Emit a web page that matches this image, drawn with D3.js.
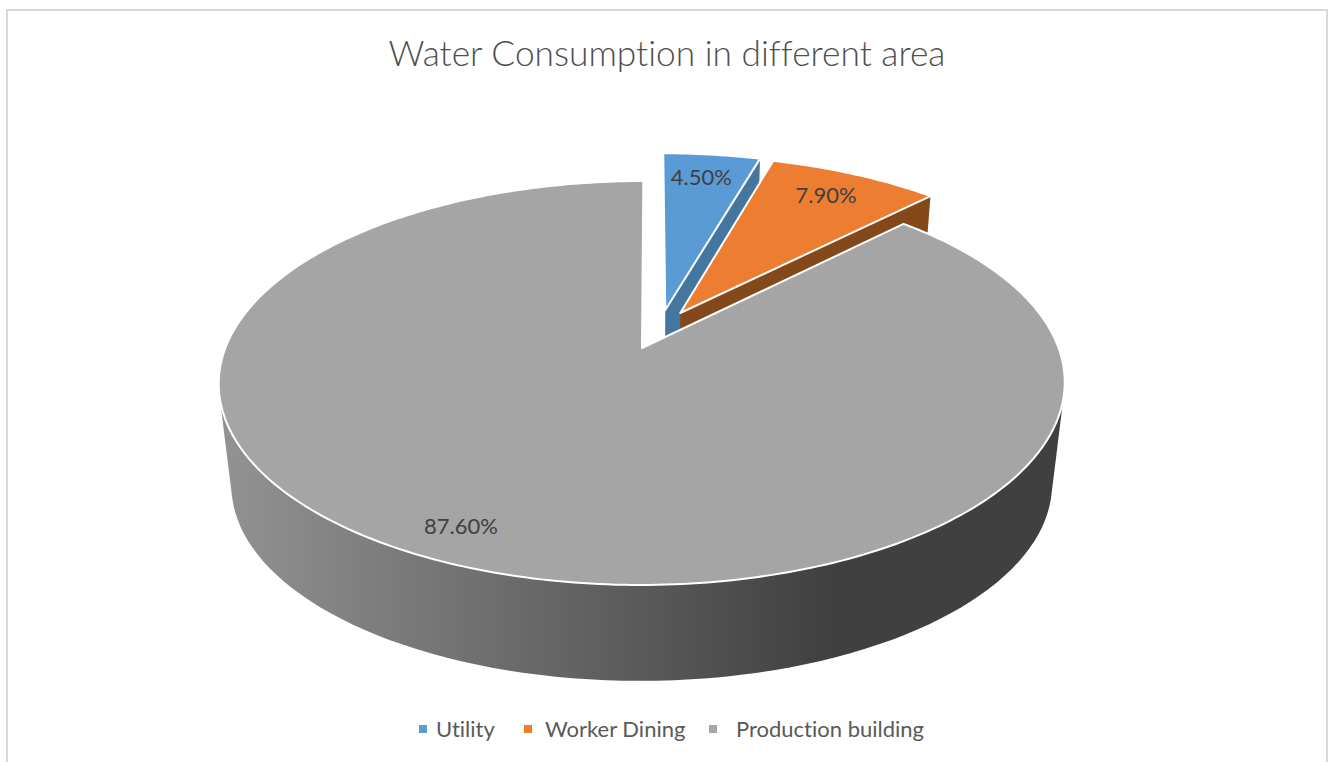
<!DOCTYPE html>
<html>
<head>
<meta charset="utf-8">
<script src="https://cdn.jsdelivr.net/npm/d3@7"></script>
<style>
    html, body { margin: 0; padding: 0; background: #fff; overflow: hidden; }
    text { font-family: Lato, "Open Sans", sans-serif; font-variant-ligatures: none; }
</style>
</head>
<body>
<div id="chart"></div>
<script>
// data
const chartTitle = "Water Consumption in different area";
const categories = ["Utility", "Worker Dining", "Production building"];
const shares = [4.5, 7.9, 87.6];
const shareLabels = ["4.50%", "7.90%", "87.60%"];
const topColors = ["#5b9bd5", "#ed7d31", "#a5a5a5"];
const edgeColors = ["#44779f", "#84491b", "#6e6e6e"];

const width = 1328, height = 762;

// projection of the tilted pie, apex of the big slice is the origin
const apexX = 642, apexY = 348;
const scaleX = 416.6, scaleY = 195.9, persp = 0.1733, shear = 0.008;
const depthDrop = 103, depthScale = 0.97;
const explode = [[0.0571, -0.2008], [0.0941, -0.1844], [0, 0]];
const labelRadius = 0.84;
const labelNudge = [[-4, 2], [-4, 2], [-26, 3]];

function project(u, v, lower) {
    let w = 1 - persp * v;
    let px = scaleX * u / w;
    let py = scaleY * v / w;
    let s = lower ? depthScale : 1;
    return [
        apexX + s * (px - shear * py),
        apexY + s * py + (lower ? depthDrop : 0)
    ];
}

// angle is clockwise from twelve o'clock
function rim(angle, i, lower, r = 1) {
    let off = explode[i];
    return project(off[0] + r * Math.sin(angle), off[1] - r * Math.cos(angle), lower);
}

function facePath(d, i) {
    let pts = [rim(0, i, false, 0)];
    let steps = Math.ceil((d.endAngle - d.startAngle) * 60);
    d3.range(steps + 1).forEach(k => {
        pts.push(rim(d.startAngle + (d.endAngle - d.startAngle) * k / steps, i, false));
    });
    return d3.line()(pts) + "Z";
}

const arcs = d3.pie().sort(null).value(d => d)(shares);

const svg = d3.select("#chart").append("svg")
    .attr("width", width)
    .attr("height", height);

const defs = svg.append("defs");
const grad = defs.append("linearGradient")
    .attr("id", "sideGrad")
    .attr("gradientUnits", "userSpaceOnUse")
    .attr("x1", 225).attr("x2", 830)
    .attr("y1", 0).attr("y2", 0);
grad.append("stop").attr("offset", 0).attr("stop-color", "#929292");
grad.append("stop").attr("offset", 1).attr("stop-color", "#404040");

svg.append("rect")
    .attr("width", width)
    .attr("height", height)
    .attr("fill", "#fff");

// chart frame, runs off the bottom of the page
svg.append("rect")
    .attr("x", 7).attr("y", 10)
    .attr("width", 1320).attr("height", 780)
    .attr("fill", "none")
    .attr("stroke", "#d9d9d9")
    .attr("stroke-width", 2);

svg.append("text")
    .attr("x", 667).attr("y", 66)
    .attr("text-anchor", "middle")
    .attr("font-size", 35.3)
    .attr("font-weight", 300)
    .attr("fill", "#4f4f4f")
    .text(chartTitle);

// outer wall of the big slice, the top face paints over the upper part
let wallPts = [];
d3.range(90, 271, 2).forEach(deg => {
    let a = deg * Math.PI / 180;
    wallPts.push(rim(a, 2, false));
    wallPts.push(rim(a, 2, true));
});
svg.append("path")
    .attr("d", "M" + d3.polygonHull(wallPts).join("L") + "Z")
    .attr("fill", "url(#sideGrad)");

// small slices first, each with the wall under its clockwise edge
[0, 1].forEach(i => {
    let d = arcs[i];
    let wall = [
        rim(0, i, false, 0),
        rim(d.endAngle, i, false),
        rim(d.endAngle, i, true),
        rim(0, i, true, 0)
    ];
    svg.append("path")
        .attr("d", d3.line()(wall) + "Z")
        .attr("fill", edgeColors[i]);
    svg.append("path")
        .attr("d", facePath(d, i))
        .attr("fill", topColors[i])
        .attr("stroke", "#fff")
        .attr("stroke-width", 2)
        .attr("stroke-linejoin", "round");
});

svg.append("path")
    .attr("d", facePath(arcs[2], 2))
    .attr("fill", topColors[2])
    .attr("stroke", "#fff")
    .attr("stroke-width", 2)
    .attr("stroke-linejoin", "round");

// data labels
svg.selectAll(".share")
    .data(arcs)
    .enter().append("text")
    .attr("class", "share")
    .attr("text-anchor", "middle")
    .attr("font-size", 22)
    .attr("fill", "#404040")
    .attr("x", (d, i) => rim((d.startAngle + d.endAngle) / 2, i, false, labelRadius)[0] + labelNudge[i][0])
    .attr("y", (d, i) => rim((d.startAngle + d.endAngle) / 2, i, false, labelRadius)[1] + 7 + labelNudge[i][1])
    .text((d, i) => shareLabels[i]);

// legend
const legendX = d3.scaleOrdinal().domain(categories).range([419, 524, 709]);
const legendGap = d3.scaleOrdinal().domain(categories).range([17, 21, 27]);
const legend = svg.selectAll(".legend")
    .data(categories)
    .enter().append("g")
    .attr("class", "legend")
    .attr("transform", d => `translate(${legendX(d)}, 725)`);
legend.append("rect")
    .attr("width", 8).attr("height", 8)
    .attr("fill", (d, i) => topColors[i]);
legend.append("text")
    .attr("x", d => legendGap(d))
    .attr("y", 12)
    .attr("font-size", 22)
    .attr("fill", "#595959")
    .text(d => d);
</script>
</body>
</html>
